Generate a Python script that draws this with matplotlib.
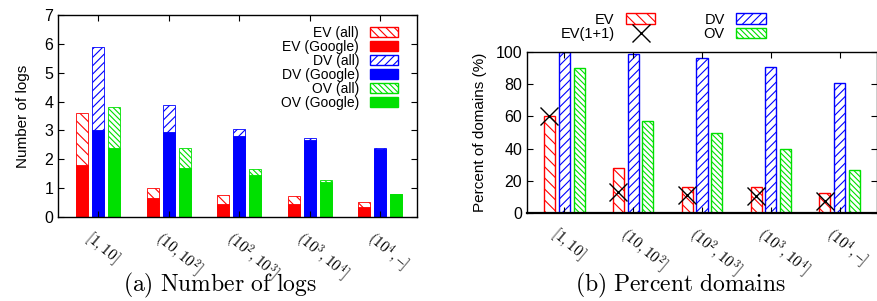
import matplotlib
matplotlib.use("Agg")
import matplotlib.pyplot as plt
import numpy as np
from matplotlib.patches import Patch
from matplotlib.lines import Line2D

plt.rcParams['font.family'] = ['Liberation Sans', 'DejaVu Sans']
plt.rcParams['mathtext.fontset'] = 'cm'
plt.rcParams['hatch.linewidth'] = 0.8

categories = [r'$[1,10]$', r'$(10,10^2]$', r'$(10^2,10^3]$', r'$(10^3,10^4]$', r'$(10^4,–]$']

ev_all = [3.6, 1.0, 0.77, 0.72, 0.53]
ev_google = [1.8, 0.67, 0.45, 0.45, 0.35]
dv_all = [5.9, 3.87, 3.04, 2.75, 2.4]
dv_google = [3.0, 2.96, 2.8, 2.66, 2.36]
ov_all = [3.8, 2.4, 1.65, 1.27, 0.8]
ov_google = [2.4, 1.7, 1.45, 1.2, 0.8]

ev_pct = [60, 28, 16, 16, 12.5]
ev11_pct = [60, 13, 11, 10.5, 7.5]
dv_pct = [100, 99, 96, 90.5, 81]
ov_pct = [90, 57, 49.5, 39.5, 26.5]

RED = '#ff0000'
BLUE = '#0000ff'
GREEN = '#00e000'

fig = plt.figure(figsize=(8.78, 3.01), dpi=100)
W, H = 878, 301
ax1 = fig.add_axes([58 / W, 1 - 217 / H, (417 - 58) / W, (217 - 15) / H])
ax2 = fig.add_axes([527 / W, 1 - 213 / H, (877 - 527) / W, (213 - 52) / H])

x = np.arange(len(categories))

# Left chart
bw = 0.17
off = 0.225
ax1.bar(x - off, ev_all, bw, facecolor='white', edgecolor=RED, hatch='\\\\\\', linewidth=0.6)
ax1.bar(x - off, ev_google, bw, color=RED, edgecolor=RED, linewidth=0.6)
ax1.bar(x, dv_all, bw, facecolor='white', edgecolor=BLUE, hatch='////', linewidth=0.6)
ax1.bar(x, dv_google, bw, color=BLUE, edgecolor=BLUE, linewidth=0.6)
ax1.bar(x + off, ov_all, bw, facecolor='white', edgecolor=GREEN, hatch='\\\\\\\\\\\\', linewidth=0.6)
ax1.bar(x + off, ov_google, bw, color=GREEN, edgecolor=GREEN, linewidth=0.6)
ax1.set_xlim(-0.57, 4.52)
ax1.set_ylim(0, 7)
ax1.set_yticks(range(0, 8))
ax1.set_ylabel('Number of logs', fontsize=11, labelpad=10)

h1 = [Patch(facecolor='white', edgecolor=RED, hatch='\\\\\\\\', label='EV (all)'),
      Patch(facecolor=RED, edgecolor=RED, label='EV (Google)'),
      Patch(facecolor='white', edgecolor=BLUE, hatch='////', label='DV (all)'),
      Patch(facecolor=BLUE, edgecolor=BLUE, label='DV (Google)'),
      Patch(facecolor='white', edgecolor=GREEN, hatch='\\\\\\\\\\\\', label='OV (all)'),
      Patch(facecolor=GREEN, edgecolor=GREEN, label='OV (Google)')]
ax1.legend(handles=h1, loc='upper right', bbox_to_anchor=(0.974, 0.995), frameon=False,
           markerfirst=False, fontsize=10, handlelength=2.0, handleheight=0.7,
           labelspacing=0.0, borderaxespad=0.3, handletextpad=0.8)

# Right chart
bw2 = 0.16
off2 = 0.215
ax2.bar(x - off2, ev_pct, bw2, facecolor='white', edgecolor=RED, hatch='\\\\\\', linewidth=1.0)
ax2.bar(x, dv_pct, bw2, facecolor='white', edgecolor=BLUE, hatch='////', linewidth=1.0)
ax2.bar(x + off2, ov_pct, bw2, facecolor='white', edgecolor=GREEN, hatch='\\\\\\\\\\\\', linewidth=1.0)
ax2.plot(x - off2, ev11_pct, linestyle='none', marker='x', color='black', markersize=13, markeredgewidth=1.0)
ax2.set_xlim(-0.54, 4.54)
ax2.set_ylim(0, 100)
ax2.set_yticks(range(0, 101, 20))
ax2.set_ylabel('Percent of domains (%)', fontsize=11, labelpad=6)

h2 = [Patch(facecolor='white', edgecolor=RED, hatch='\\\\\\', label='EV'),
      Line2D([], [], linestyle='none', marker='x', color='black', markersize=13, label='EV(1+1)'),
      Patch(facecolor='white', edgecolor=BLUE, hatch='////', label='DV'),
      Patch(facecolor='white', edgecolor=GREEN, hatch='\\\\\\\\\\\\', label='OV')]
fig.legend(handles=h2, loc='center', bbox_to_anchor=(663 / W, 1 - 27 / H), ncol=2, frameon=False,
           markerfirst=False, fontsize=10.5, handlelength=2.0, handleheight=0.7,
           labelspacing=0.05, columnspacing=3.3, handletextpad=0.8)

for ax in (ax1, ax2):
    ax.set_xticks(x)
    ax.set_xticklabels([])
    ax.tick_params(axis='both', direction='in', top=True, right=True, length=4, width=0.8, labelsize=11.5)
    for s in ax.spines.values():
        s.set_linewidth(1.0)
    for xi, lab in zip(x, categories):
        ax.annotate(lab, xy=(xi, 0), xycoords=('data', 'axes fraction'),
                    xytext=(-3, -8), textcoords='offset points',
                    ha='left', va='top', rotation=-40, rotation_mode='anchor', fontsize=11)

ax2.spines['bottom'].set_linewidth(1.6)

fig.text(220 / W, 1 - 285 / H, r'$\mathrm{(a)\ Number\ of\ logs}$', ha='center', va='center', fontsize=17)
fig.text(680 / W, 1 - 285 / H, r'$\mathrm{(b)\ Percent\ domains}$', ha='center', va='center', fontsize=17)

fig.savefig('out.png', dpi=100)
